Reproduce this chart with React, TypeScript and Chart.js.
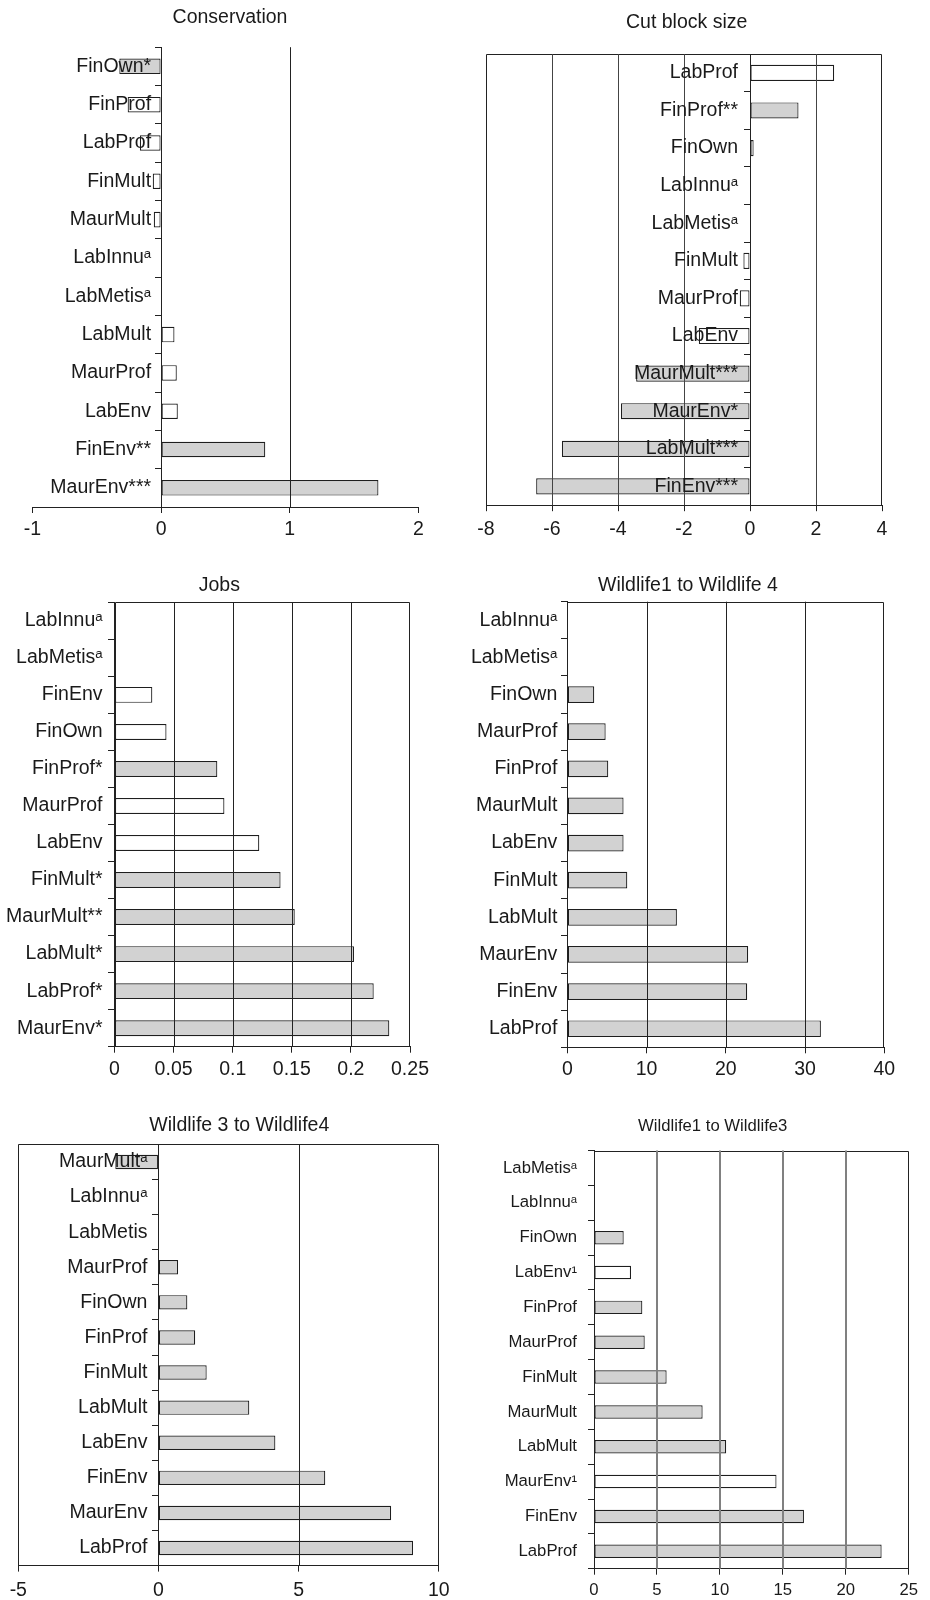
import React, { useEffect, useRef } from "react";
import { Chart, registerables } from "chart.js";

Chart.register(...registerables);

const FONT = "'Liberation Sans', Arial, Helvetica, sans-serif";

// ---------- Conservation ----------
const conservationLabels = ["FinOwn*", "FinProf", "LabProf", "FinMult", "MaurMult", "LabInnuᵃ", "LabMetisᵃ", "LabMult", "MaurProf", "LabEnv", "FinEnv**", "MaurEnv***"];
const conservationValues = [-0.325, -0.26, -0.165, -0.065, -0.057, null, null, 0.104, 0.122, 0.13, 0.81, 1.69];
const conservationSignificant = [true, false, false, false, false, false, false, false, false, false, true, true];
const conservationTicks = [-1, 0, 1, 2];
const conservationGridAt = [1];

// ---------- Cut block size ----------
const cutBlockLabels = ["LabProf", "FinProf**", "FinOwn", "LabInnuᵃ", "LabMetisᵃ", "FinMult", "MaurProf", "LabEnv", "MaurMult***", "MaurEnv*", "LabMult***", "FinEnv***"];
const cutBlockValues = [2.55, 1.47, 0.11, null, null, -0.2, -0.31, -1.55, -3.45, -3.91, -5.7, -6.48];
const cutBlockSignificant = [false, true, false, false, false, false, false, false, true, true, true, true];
const cutBlockTicks = [-8, -6, -4, -2, 0, 2, 4];
const cutBlockGridAt = [-6, -4, -2, 2];

// ---------- Jobs ----------
const jobsLabels = ["LabInnuᵃ", "LabMetisᵃ", "FinEnv", "FinOwn", "FinProf*", "MaurProf", "LabEnv", "FinMult*", "MaurMult**", "LabMult*", "LabProf*", "MaurEnv*"];
const jobsValues = [null, null, 0.032, 0.044, 0.087, 0.093, 0.1225, 0.1405, 0.1525, 0.2026, 0.2193, 0.2325];
const jobsSignificant = [false, false, false, false, true, false, false, true, true, true, true, true];
const jobsTicks = [0, 0.05, 0.1, 0.15, 0.2, 0.25];
const jobsGridAt = [0.05, 0.1, 0.15, 0.2];

// ---------- Wildlife1 to Wildlife 4 ----------
const w14Labels = ["LabInnuᵃ", "LabMetisᵃ", "FinOwn", "MaurProf", "FinProf", "MaurMult", "LabEnv", "FinMult", "LabMult", "MaurEnv", "FinEnv", "LabProf"];
const w14Values = [null, null, 3.4, 4.84, 5.17, 7.1, 7.1, 7.57, 13.83, 22.82, 22.7, 32.0];
const w14Significant = [true, true, true, true, true, true, true, true, true, true, true, true];
const w14Ticks = [0, 10, 20, 30, 40];
const w14GridAt = [10, 20, 30];

// ---------- Wildlife 3 to Wildlife4 ----------
const w34Labels = ["MaurMultᵃ", "LabInnuᵃ", "LabMetis", "MaurProf", "FinOwn", "FinProf", "FinMult", "LabMult", "LabEnv", "FinEnv", "MaurEnv", "LabProf"];
const w34Values = [-1.54, null, null, 0.7, 1.03, 1.31, 1.72, 3.24, 4.17, 5.95, 8.3, 9.08];
const w34Significant = [true, true, true, true, true, true, true, true, true, true, true, true];
const w34Ticks = [-5, 0, 5, 10];
const w34GridAt = [5];

// ---------- Wildlife1 to Wildlife3 ----------
const w13Labels = ["LabMetisᵃ", "LabInnuᵃ", "FinOwn", "LabEnv¹", "FinProf", "MaurProf", "FinMult", "MaurMult", "LabMult", "MaurEnv¹", "FinEnv", "LabProf"];
const w13Values = [null, null, 2.36, 2.94, 3.84, 4.03, 5.77, 8.63, 10.5, 14.5, 16.68, 22.85];
const w13Significant = [false, false, true, false, true, true, true, true, true, false, true, true];
const w13Ticks = [0, 5, 10, 15, 20, 25];
const w13GridAt = [5, 10, 15, 20];

type PanelData = {
  title: string;
  labels: string[];
  values: (number | null)[];
  significant: boolean[];
  ticks: number[];
  gridAt: number[];
};

type PanelLayout = {
  canvas: [number, number, number, number]; // left, top, width, height (page px)
  titleAt: [number, number]; // centre x, centre y
  area: [number, number, number, number]; // left, top, right, bottom of plot
  font: number;
  barPct: number;
  labelGap: number;
  xPad: number;
  frame: boolean;
  gridColor: string;
  gridWidth: number;
};

const PANELS: { data: PanelData; layout: PanelLayout }[] = [
  {
    data: { title: "Conservation", labels: conservationLabels, values: conservationValues, significant: conservationSignificant, ticks: conservationTicks, gridAt: conservationGridAt },
    layout: { canvas: [8, 0, 450, 560], titleAt: [230, 17.2], area: [32.5, 47.2, 418.3, 507], font: 19.5, barPct: 0.405, labelGap: 10, xPad: 5, frame: false, gridColor: "#222", gridWidth: 1 },
  },
  {
    data: { title: "Cut block size", labels: cutBlockLabels, values: cutBlockValues, significant: cutBlockSignificant, ticks: cutBlockTicks, gridAt: cutBlockGridAt },
    layout: { canvas: [466, 0, 450, 560], titleAt: [686.7, 22.4], area: [486, 54.1, 882, 505.2], font: 19.5, barPct: 0.43, labelGap: 12, xPad: 7, frame: true, gridColor: "#444", gridWidth: 1 },
  },
  {
    data: { title: "Jobs", labels: jobsLabels, values: jobsValues, significant: jobsSignificant, ticks: jobsTicks, gridAt: jobsGridAt },
    layout: { canvas: [0, 560, 450, 530], titleAt: [219.3, 586], area: [114.5, 602.3, 410, 1046.7], font: 19.5, barPct: 0.43, labelGap: 12, xPad: 5, frame: true, gridColor: "#222", gridWidth: 1 },
  },
  {
    data: { title: "Wildlife1 to Wildlife 4", labels: w14Labels, values: w14Values, significant: w14Significant, ticks: w14Ticks, gridAt: w14GridAt },
    layout: { canvas: [466, 560, 450, 530], titleAt: [688, 585.7], area: [567.3, 601.7, 884.3, 1047.3], font: 19.5, barPct: 0.45, labelGap: 10, xPad: 5, frame: true, gridColor: "#222", gridWidth: 1 },
  },
  {
    data: { title: "Wildlife 3 to Wildlife4", labels: w34Labels, values: w34Values, significant: w34Significant, ticks: w34Ticks, gridAt: w34GridAt },
    layout: { canvas: [0, 1090, 470, 510], titleAt: [239.3, 1125.4], area: [18.3, 1144.4, 438.8, 1565.6], font: 19.5, barPct: 0.41, labelGap: 11, xPad: 7, frame: true, gridColor: "#222", gridWidth: 1 },
  },
  {
    data: { title: "Wildlife1 to Wildlife3", labels: w13Labels, values: w13Values, significant: w13Significant, ticks: w13Ticks, gridAt: w13GridAt },
    layout: { canvas: [490, 1090, 440, 510], titleAt: [712.7, 1126.1], area: [594, 1150.6, 908.7, 1568.7], font: 16.7, barPct: 0.386, labelGap: 17, xPad: 6, frame: true, gridColor: "#808080", gridWidth: 2 },
  },
];

// Plot frame (left, top, right edges) drawn behind the bars
const framePlugin = {
  id: "frame",
  beforeDatasetsDraw(chart: any, _args: any, opts: any) {
    if (!opts || !opts.display) return;
    const { ctx, chartArea } = chart;
    const l = Math.round(chartArea.left) + 0.5;
    const r = Math.round(chartArea.right) - 0.5;
    const t = Math.round(chartArea.top) + 0.5;
    const b = Math.round(chartArea.bottom);
    ctx.save();
    ctx.strokeStyle = opts.color;
    ctx.lineWidth = opts.width;
    ctx.beginPath();
    ctx.moveTo(l, b);
    ctx.lineTo(l, t);
    ctx.lineTo(r, t);
    ctx.lineTo(r, b);
    ctx.stroke();
    ctx.restore();
  },
};

// Vertical value grid lines, drawn over the bars at the x scale's pixel positions
const gridOverlayPlugin = {
  id: "gridOverlay",
  afterDatasetsDraw(chart: any, _args: any, opts: any) {
    if (!opts || !opts.values) return;
    const { ctx, chartArea } = chart;
    const xs = chart.scales.x;
    ctx.save();
    ctx.strokeStyle = opts.color;
    ctx.lineWidth = opts.width;
    for (const v of opts.values) {
      const w = opts.width;
      let px = xs.getPixelForValue(v);
      px = w % 2 === 1 ? Math.round(px) + 0.5 : Math.round(px);
      ctx.beginPath();
      ctx.moveTo(px, chartArea.top);
      ctx.lineTo(px, chartArea.bottom);
      ctx.stroke();
    }
    ctx.restore();
  },
};

function Panel({ data, layout }: { data: PanelData; layout: PanelLayout }) {
  const ref = useRef<HTMLCanvasElement | null>(null);
  const [cx, cy, W, H] = layout.canvas;

  useEffect(() => {
    if (!ref.current) return;
    const [tx, ty] = layout.titleAt;
    const [L, T, R, B] = layout.area;
    const S = 2 * (tx - cx);
    let pL = 0;
    let pR = 0;
    if (S <= W) pR = W - S;
    else pL = S - W;
    const leftW = Math.max(0, L - cx - pL);
    const rightW = Math.max(0, cx + W - pR - R);
    const lh = layout.font * 1.2;
    const tp = ty - cy - lh / 2;
    const tb = T - cy - tp - lh;
    const xH = cy + H - B;
    const font = { family: FONT, size: layout.font };
    const min = data.ticks[0];
    const max = data.ticks[data.ticks.length - 1];
    // label anchor sits a few pixels left of the zero line (value units)
    const gapValue = (layout.labelGap * (max - min)) / (R - L);

    const chart = new Chart(ref.current, {
      type: "bar",
      data: {
        labels: data.labels,
        datasets: [
          {
            data: data.values as any,
            xAxisID: "x",
            yAxisID: "y",
            backgroundColor: data.significant.map((s) => (s ? "#d2d2d2" : "#ffffff")),
            borderColor: "#1e1e1e",
            borderWidth: 1.2,
            borderSkipped: false,
            barPercentage: layout.barPct,
            categoryPercentage: 1,
          },
        ],
      },
      options: {
        indexAxis: "y",
        responsive: false,
        animation: false,
        devicePixelRatio: 1,
        events: [],
        layout: { padding: { left: pL, right: pR, top: 0, bottom: 0 } },
        plugins: {
          legend: { display: false },
          tooltip: { enabled: false },
          title: {
            display: true,
            text: data.title,
            color: "#1a1a1a",
            font: { family: FONT, size: layout.font, weight: "normal" },
            padding: { top: tp, bottom: tb },
          },
          frame: { display: layout.frame, color: "#222", width: 1 },
          gridOverlay: { values: data.gridAt, color: layout.gridColor, width: layout.gridWidth },
        } as any,
        scales: {
          x: {
            type: "linear",
            position: "bottom",
            min,
            max,
            afterBuildTicks: (s: any) => {
              s.ticks = data.ticks.map((v) => ({ value: v }));
            },
            afterFit: (s: any) => {
              s.height = xH;
            },
            grid: {
              display: true,
              drawOnChartArea: false,
              drawTicks: true,
              tickLength: 6,
              color: "#222",
              tickColor: "#222",
              tickWidth: 1,
            },
            border: { display: true, color: "#222", width: 1 },
            ticks: {
              font,
              color: "#1a1a1a",
              padding: layout.xPad,
              maxRotation: 0,
              autoSkip: false,
              callback: (v: any) => String(v),
            },
          },
          // category axis drawn on the zero line: line + tick marks
          y: {
            type: "category",
            position: { x: 0 } as any,
            offset: true,
            grid: {
              display: true,
              offset: true,
              drawOnChartArea: false,
              drawTicks: true,
              tickLength: 6,
              color: "#222",
              tickColor: "#222",
              lineWidth: 1,
            },
            border: { display: true, color: "#222", width: 1, z: 1 },
            ticks: { display: false },
          },
          // category labels, drawn on top of the bars
          yLabels: {
            type: "category",
            axis: "y",
            position: { x: -gapValue } as any,
            offset: true,
            grid: { display: false },
            border: { display: false },
            ticks: { font, color: "#1a1a1a", autoSkip: false, padding: 0, z: 2 },
          },
          padL: {
            type: "linear",
            axis: "y",
            position: "left",
            display: true,
            grid: { display: false },
            border: { display: false },
            ticks: { display: false },
            afterFit: (s: any) => {
              s.width = leftW;
            },
          },
          padR: {
            type: "linear",
            axis: "y",
            position: "right",
            display: true,
            grid: { display: false },
            border: { display: false },
            ticks: { display: false },
            afterFit: (s: any) => {
              s.width = rightW;
            },
          },
        } as any,
      },
      plugins: [framePlugin as any, gridOverlayPlugin as any],
    });
    return () => chart.destroy();
  }, [data, layout]);

  return (
    <canvas
      ref={ref}
      width={W}
      height={H}
      style={{ position: "absolute", left: cx, top: cy, width: W, height: H }}
    />
  );
}

export default function App() {
  return (
    <div style={{ position: "absolute", left: 0, top: 0, width: 930, height: 1600, background: "#fff" }}>
      {PANELS.map((p, i) => (
        <Panel key={i} data={p.data} layout={p.layout} />
      ))}
    </div>
  );
}
